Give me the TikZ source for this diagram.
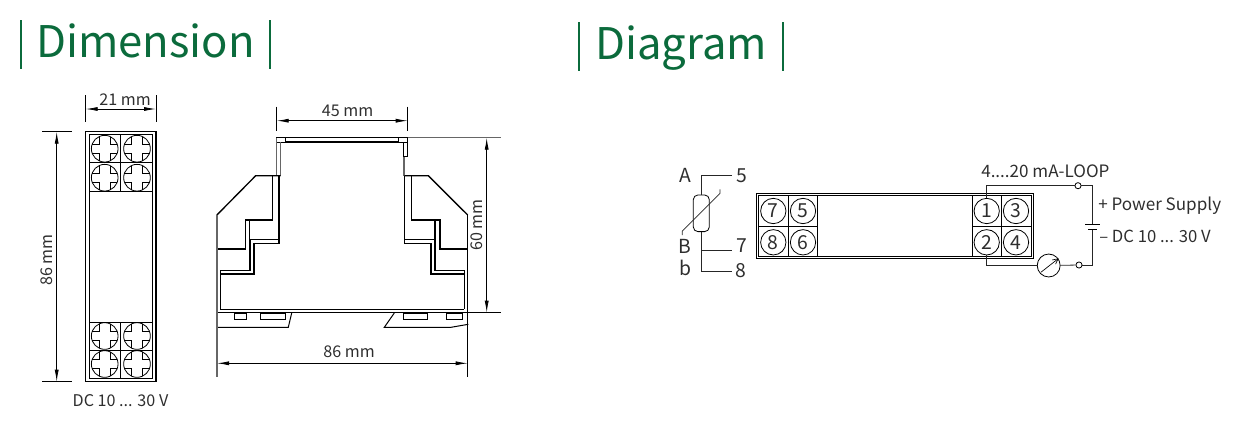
\documentclass[tikz,border=0pt]{standalone}
\usepackage{fontspec}
\setmainfont{Noto Sans CJK SC}
\usetikzlibrary{arrows.meta,calc}
\definecolor{brandgreen}{HTML}{0B6B3C}
\definecolor{txt}{HTML}{2E2E2E}
\tikzset{
  ln/.style={black,line width=0.75pt},
  thin ln/.style={black,line width=0.5pt},
  hv/.style={black,line width=1pt},
  grey ln/.style={black!60,line width=0.9pt},
  dim/.style={black,line width=0.6pt,{Latex[length=9pt,width=3pt]}-{Latex[length=9pt,width=3pt]}},
  lab/.style={inner sep=0pt,text=txt,font=\fontsize{12.1}{14}\selectfont},
  big lab/.style={lab,font=\fontsize{12.8}{15}\selectfont},
  wire lab/.style={lab,font=\fontsize{14.5}{16}\selectfont},
  title/.style={inner sep=0pt,anchor=base west,text=brandgreen,font=\fontsize{32.7}{36}\selectfont},
  bar/.style={brandgreen,line width=1.6pt},
  term/.style={circle,draw=black,line width=0.6pt,minimum size=19pt,inner sep=0pt,text=txt,font=\fontsize{14.5}{16}\selectfont},
  open/.style={circle,draw=black,line width=0.6pt,fill=white,minimum size=4.6pt,inner sep=0pt},
  pic wire/.style={black!85,line width=0.6pt},
}
\newcommand{\screw}[3]{%
  \node[circle,draw=black,line width=0.6pt,minimum size=20pt,inner sep=0pt] (#3) at (#1,#2) {};
  \begin{scope}[shift={(#1,#2)},line width=0.45pt]
    \draw (-12.5,-4.5) -- (-5.5,-4.5) -- (-5.5,-12.1);
    \draw (12.5,-4.5) -- (5.5,-4.5) -- (5.5,-12.1);
    \draw (-12.5,4.5) -- (-5.5,4.5) -- (-5.5,12.1);
    \draw (12.5,4.5) -- (5.5,4.5) -- (5.5,12.1);
  \end{scope}}
\begin{document}
\begin{tikzpicture}[x=0.75pt,y=-0.75pt]
\useasboundingbox (0,0) rectangle (1241,425);
% titles
\draw[bar] (21,20) coordinate (t1a) -- (21,69) coordinate (t1b);
\draw[bar] (270,20) coordinate (t2a) -- (270,69) coordinate (t2b);
\node[title] (dimt) at (36,57) {Dimension};
\draw[bar] (579,22) coordinate (t3a) -- (579,71) coordinate (t3b);
\draw[bar] (783,22) coordinate (t4a) -- (783,71) coordinate (t4b);
\node[title] (diat) at (595,59) {Diagram};
% front view
\draw[hv] (85.7,131.7) rectangle (156,381.7);
\draw[thin ln] (89,134.7) rectangle (152.7,378);
\draw[thin ln] (89,191.7) -- (152.7,191.7) (89,162.7) -- (152.7,162.7) (120.7,134.7) -- (120.7,191.7);
\draw[thin ln] (89,322.3) -- (152.7,322.3) (89,350) -- (152.7,350) (120.7,322.3) -- (120.7,378);
\screw{104.7}{148.7}{s1}\screw{137}{148.7}{s2}\screw{104.7}{177.7}{s3}\screw{137}{177.7}{s4}
\screw{104.7}{336}{s5}\screw{137}{336}{s6}\screw{104.7}{364}{s7}\screw{137}{364}{s8}
% front dims
\draw[thin ln] (85.7,95) coordinate (e1) -- (85.7,122) (156,95) coordinate (e2) -- (156,122);
\draw[dim] (85.7,109) -- (156,109);
\node[lab] (l21) at (125,100) {21 mm};
\draw[thin ln] (42,131.7) -- (72,131.7) (42,381.7) -- (72,381.7);
\draw[dim] (56.7,131.7) -- (56.7,381.7);
\node[lab,rotate=90] (l86v) at (47,260) {86 mm};
\node[lab] (ldc) at (120.5,401) {DC 10 ... 30 V};
% side view
\draw[hv] (276.7,137.7) -- (407.7,137.7);
\draw[hv] (285.7,142) -- (398.3,142);
\draw[thin ln] (276.7,137.7) rectangle (285.7,142);
\draw[thin ln] (398.3,137.7) rectangle (407.7,142);
\draw[thin ln] (403.7,142) rectangle (407.7,156.7);
\draw[grey ln] (276.7,137.7) -- (276.7,175.7);
\draw[grey ln] (280.7,142) -- (280.7,175.7);
\draw[grey ln] (404,156.7) -- (404,175.7);
% left shoulder
\draw[hv] (216.9,215) -- (255.7,175.7) -- (280.7,175.7);
\draw[hv] (272.7,175.7) -- (272.7,220) -- (245.5,220) -- (245.5,249) -- (217,249);
\draw[hv] (249.5,220) -- (249.5,239.3) -- (279,239.3);
\draw[hv] (279,175.7) -- (279,243.4) -- (254,243.4) -- (254,274) -- (220.3,274);
\draw[hv] (250,239.3) -- (250,270.7) -- (220.3,270.7) -- (220.3,309.3) -- (464.3,309.3);
% right shoulder
\draw[hv] (467.7,215) -- (428.3,175.7) -- (404.3,175.7);
\draw[hv] (411.7,175.7) -- (411.7,220) -- (440,220) -- (440,249) -- (467.7,249);
\draw[hv] (435,220) -- (435,239.3) -- (404.3,239.3);
\draw[hv] (404.3,175.7) -- (404.3,243.4) -- (431,243.4) -- (431,274) -- (464.3,274);
\draw[hv] (435,239.3) -- (435,249) (435,249) -- (435,270.7) -- (464.3,270.7) -- (464.3,309.3);
% base and rail
\draw[ln] (217,312.7) -- (501,312.7);
\draw[thin ln] (217,312.7) -- (217,327.3);
\draw[ln] (217,327.3) -- (288.3,327.3) -- (291.7,313);
\draw[ln] (394.3,313) -- (384.3,327.3) -- (451,327.3) -- (468.3,324.3);
\draw[thin ln] (234.3,313) rectangle (246.7,319);
\draw[thin ln] (260.7,313) rectangle (285,319);
\draw[thin ln] (403.3,313) rectangle (427.3,319);
\draw[thin ln] (446.7,313) rectangle (462.3,319);
% side dims
\draw[grey ln] (217,215) -- (217,376.7);
\draw[thin ln] (467.7,215) -- (467.7,376.7);
\draw[grey ln] (407.7,137.7) -- (501,137.7);
\draw[thin ln] (276.7,106.7) -- (276.7,131) (407.7,106.7) -- (407.7,131);
\draw[dim] (276.7,120.7) -- (407.7,120.7);
\node[lab] (l45) at (347.5,110.5) {45 mm};
\draw[dim] (217,363.3) -- (467.7,363.3);
\node[lab] (l86h) at (349,352) {86 mm};
\draw[dim] (486.7,137.7) -- (486.7,312.7);
\node[lab,rotate=90] (l60) at (477,225) {60 mm};
% wiring module
\draw[ln] (756.7,193.3) rectangle (1033.5,258.3);
\draw[thin ln] (758.3,195) rectangle (1031.7,256.4);
\draw[thin ln] (788.3,195) -- (788.3,256.4) (817.7,195) -- (817.7,256.4);
\draw[thin ln] (972.3,195) -- (972.3,256.4) (1001.7,195) -- (1001.7,256.4);
\draw[thin ln] (758.3,226.7) -- (817.7,226.7) (972.3,226.7) -- (1031.7,226.7);
\node[term] (t7) at (773.3,211) {7};
\node[term] (t5) at (803,211) {5};
\node[term] (t8) at (773.3,242.3) {8};
\node[term] (t6) at (803,242.3) {6};
\node[term] (t1) at (986.7,211) {1};
\node[term] (t3) at (1016,211) {3};
\node[term] (t2) at (986.7,242.3) {2};
\node[term] (t4) at (1016,242.3) {4};
% loop
\node[open] (o1) at (1078,185.7) {};
\node[open] (o2) at (1079,265) {};
\node[circle,draw=black,line width=0.6pt,minimum size=17.2pt,inner sep=0pt] (meter) at (1048.7,265.5) {};
\coordinate (bt) at (1092.7,224.3);
\coordinate (bb) at (1092.7,229.7);
\draw[pic wire] (t1.north) -- (t1.north |- o1) -- (o1);
\draw[pic wire] (o1) -- (bt |- o1) -- (bt);
\draw[pic wire] (bb) -- (bb |- o2) -- (o2);
\draw[pic wire] (o2) -- (meter);
\draw[pic wire] (meter) -- (t2.south |- meter) -- (t2.south);
\draw[ln] (1085.3,224.3) -- (1100,224.3);
\draw[ln] (1088,229.7) -- (1097,229.7);
\draw[black,line width=0.5pt,-{Straight Barb[length=4pt,width=4pt]}] ($(meter)+(-7.7,6.7)$) -- ($(meter)+(10,-7.2)$);
% sensor
\node[draw=black,line width=0.6pt,rounded corners=3.5pt,minimum width=12pt,minimum height=27.5pt,inner sep=0pt] (rtd) at (701.3,213.3) {};
\coordinate (w5) at (732,175);
\coordinate (w7) at (732,250.3);
\coordinate (w8) at (732,271);
\draw[pic wire] (w5) -- (rtd.north |- w5) -- (rtd.north);
\draw[pic wire] (rtd.south) -- (rtd.south |- w8) -- (w8);
\draw[pic wire] (rtd.south |- w7) -- (w7);
\draw[pic wire] (682.3,235) -- (682.3,231) -- (720,193.3) -- (720,189.3);
\node[wire lab] (la) at (685,175) {A};
\node[wire lab] (lb) at (685,246.5) {B};
\node[wire lab] (lbb) at (685,268) {b};
\node[wire lab] (n5) at (741.5,175.5) {5};
\node[wire lab] (n7) at (742,246) {7};
\node[wire lab] (n8) at (741,270.5) {8};
\node[big lab,anchor=west] (lloop) at (981,171) {4....20 mA-LOOP};
\node[big lab,anchor=west] (lps) at (1098,206) {+ Power Supply};
\node[big lab,anchor=west,font=\fontsize{12.5}{15}\selectfont] (ldc2) at (1099,236) {– DC 10 ... 30 V};
\end{tikzpicture}
\end{document}
